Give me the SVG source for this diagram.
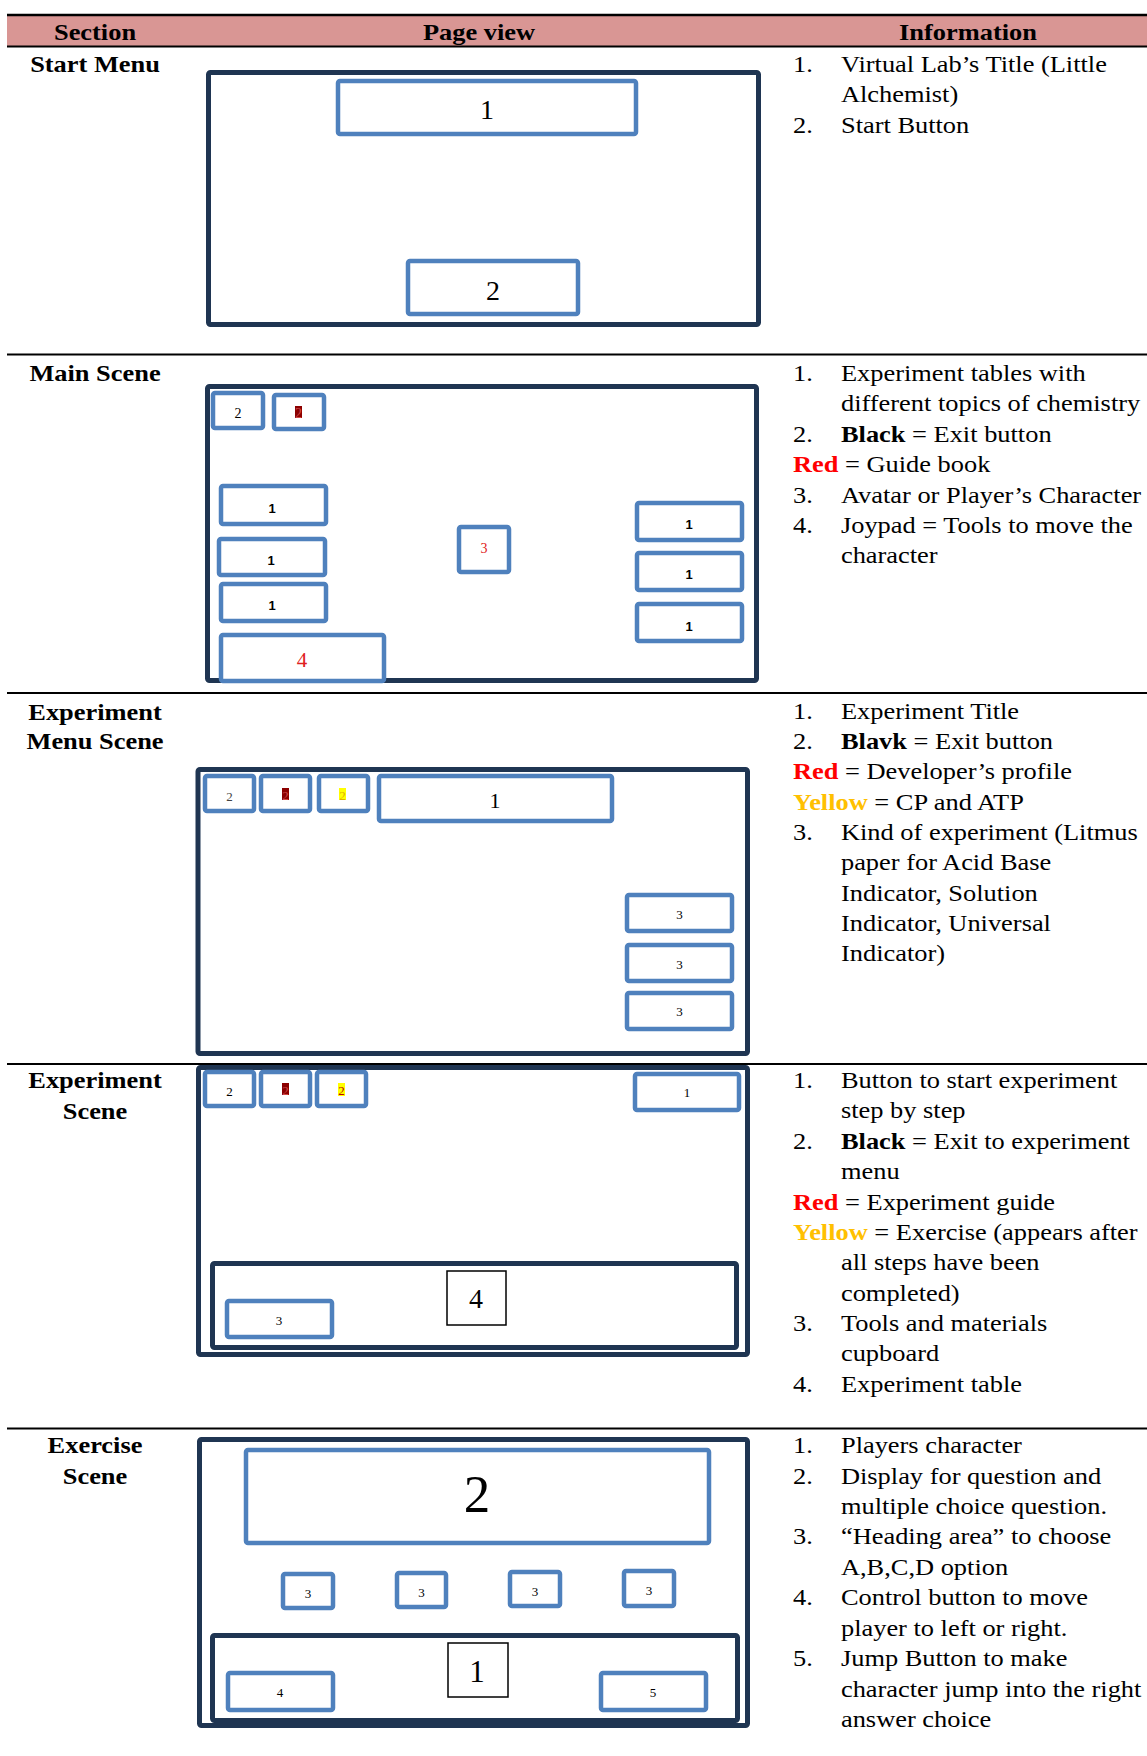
<svg xmlns="http://www.w3.org/2000/svg" width="1147" height="1756" viewBox="0 0 1147 1756">
<style>
.bg{fill:#fff}
.hdr{fill:#d99694}
.rule{stroke:#000;stroke-width:2}
.frame{fill:none;stroke:#1f3552;stroke-width:5}
.btn{fill:#fff;stroke:#4f81bd;stroke-width:4.5}
.sq{fill:#fff;stroke:#000;stroke-width:1.5}
.tx{font-family:"Liberation Serif","Times New Roman",serif;font-size:24px;fill:#000}
.b{font-weight:bold}
.c{text-anchor:middle}
.lbl{font-family:"Liberation Serif","Times New Roman",serif;text-anchor:middle;fill:#000}
.sans{font-family:"Liberation Sans",Arial,sans-serif;font-weight:bold}
.red{fill:#ff0000}
.yel{fill:#ffc000}
.lred{fill:#e02020}
.onred{fill:#d04848}
.onyel{fill:#e0b000}
.onyel2{fill:#c00000}
.grey{fill:#444}
.hlr{fill:#8b0000}
.hly{fill:#ffff00}
</style>
<rect class="bg" x="0" y="0" width="1147" height="1756"/>

<!-- table header and rules -->
<g id="table">
<rect class="hdr" x="7" y="15" width="1140" height="31"/>
<line class="rule" x1="7" y1="15" x2="1147" y2="15" style="stroke-width:2.5"/>
<line class="rule" x1="7" y1="46.5" x2="1147" y2="46.5"/>
<line class="rule" x1="7" y1="354.5" x2="1147" y2="354.5"/>
<line class="rule" x1="7" y1="693" x2="1147" y2="693"/>
<line class="rule" x1="7" y1="1064" x2="1147" y2="1064"/>
<line class="rule" x1="7" y1="1428.5" x2="1147" y2="1428.5"/>
<text class="tx b c" transform="translate(95,40) scale(1.1,1)">Section</text>
<text class="tx b c" transform="translate(479,40) scale(1.1,1)">Page view</text>
<text class="tx b c" transform="translate(968,40) scale(1.1,1)">Information</text>
</g>

<!-- section labels -->
<g id="sections" class="tx b c">
<text transform="translate(95,72) scale(1.1,1)">Start Menu</text>
<text transform="translate(95,381) scale(1.1,1)">Main Scene</text>
<text transform="translate(95,720) scale(1.1,1)">Experiment</text>
<text transform="translate(95,749) scale(1.1,1)">Menu Scene</text>
<text transform="translate(95,1088) scale(1.1,1)">Experiment</text>
<text transform="translate(95,1119) scale(1.1,1)">Scene</text>
<text transform="translate(95,1453) scale(1.1,1)">Exercise</text>
<text transform="translate(95,1484) scale(1.1,1)">Scene</text>
</g>

<!-- information column -->
<g id="info" class="tx" transform="translate(793,0) scale(1.1,1)">
<text x="0" y="72">1.</text><text x="43.6" y="72">Virtual Lab’s Title (Little</text>
<text x="43.6" y="102">Alchemist)</text>
<text x="0" y="133">2.</text><text x="43.6" y="133">Start Button</text>

<text x="0" y="381">1.</text><text x="43.6" y="381">Experiment tables with</text>
<text x="43.6" y="411">different topics of chemistry</text>
<text x="0" y="442">2.</text><text x="43.6" y="442"><tspan class="b">Black</tspan> = Exit button</text>
<text x="0" y="472"><tspan class="b red">Red</tspan> = Guide book</text>
<text x="0" y="503">3.</text><text x="43.6" y="503">Avatar or Player’s Character</text>
<text x="0" y="533">4.</text><text x="43.6" y="533">Joypad = Tools to move the</text>
<text x="43.6" y="563">character</text>

<text x="0" y="719">1.</text><text x="43.6" y="719">Experiment Title</text>
<text x="0" y="749">2.</text><text x="43.6" y="749"><tspan class="b">Blavk</tspan> = Exit button</text>
<text x="0" y="779"><tspan class="b red">Red</tspan> = Developer’s profile</text>
<text x="0" y="810"><tspan class="b yel">Yellow</tspan> = CP and ATP</text>
<text x="0" y="840">3.</text><text x="43.6" y="840">Kind of experiment (Litmus</text>
<text x="43.6" y="870">paper for Acid Base</text>
<text x="43.6" y="901">Indicator, Solution</text>
<text x="43.6" y="931">Indicator, Universal</text>
<text x="43.6" y="961">Indicator)</text>

<text x="0" y="1088">1.</text><text x="43.6" y="1088">Button to start experiment</text>
<text x="43.6" y="1118">step by step</text>
<text x="0" y="1149">2.</text><text x="43.6" y="1149"><tspan class="b">Black</tspan> = Exit to experiment</text>
<text x="43.6" y="1179">menu</text>
<text x="0" y="1210"><tspan class="b red">Red</tspan> = Experiment guide</text>
<text x="0" y="1240"><tspan class="b yel">Yellow</tspan> = Exercise (appears after</text>
<text x="43.6" y="1270">all steps have been</text>
<text x="43.6" y="1301">completed)</text>
<text x="0" y="1331">3.</text><text x="43.6" y="1331">Tools and materials</text>
<text x="43.6" y="1361">cupboard</text>
<text x="0" y="1392">4.</text><text x="43.6" y="1392">Experiment table</text>

<text x="0" y="1453">1.</text><text x="43.6" y="1453">Players character</text>
<text x="0" y="1484">2.</text><text x="43.6" y="1484">Display for question and</text>
<text x="43.6" y="1514">multiple choice question.</text>
<text x="0" y="1544">3.</text><text x="43.6" y="1544">“Heading area” to choose</text>
<text x="43.6" y="1575">A,B,C,D option</text>
<text x="0" y="1605">4.</text><text x="43.6" y="1605">Control button to move</text>
<text x="43.6" y="1636">player to left or right.</text>
<text x="0" y="1666">5.</text><text x="43.6" y="1666">Jump Button to make</text>
<text x="43.6" y="1697">character jump into the right</text>
<text x="43.6" y="1727">answer choice</text>
</g>

<!-- Start Menu -->
<g id="start-frame"><rect class="frame" x="208.5" y="72.5" width="550" height="252" rx="2"/></g>
<g id="start-1"><rect class="btn" x="338" y="81" width="298" height="53" rx="2"/><text class="lbl" x="487" y="119" font-size="28">1</text></g>
<g id="start-2"><rect class="btn" x="408" y="261" width="170" height="53" rx="2"/><text class="lbl" x="493" y="300" font-size="28">2</text></g>

<!-- Main Scene -->
<g id="main-frame"><rect class="frame" x="207.5" y="386.5" width="549" height="294" rx="2"/></g>
<g id="main-2a"><rect class="btn" x="213" y="393" width="50" height="35" rx="2"/><text class="lbl" x="238" y="418" font-size="14">2</text></g>
<g id="main-2b"><rect class="btn" x="274" y="395" width="50" height="34" rx="2"/><rect class="hlr" x="295" y="406" width="7" height="12"/><text class="lbl onred" x="298.5" y="418" font-size="14">2</text></g>
<g id="main-1a"><rect class="btn" x="221" y="486" width="105" height="38" rx="2"/><text class="lbl sans" x="272" y="513" font-size="13">1</text></g>
<g id="main-1b"><rect class="btn" x="219" y="539" width="106" height="36" rx="2"/><text class="lbl sans" x="271" y="565" font-size="13">1</text></g>
<g id="main-1c"><rect class="btn" x="221" y="584" width="105" height="37" rx="2"/><text class="lbl sans" x="272" y="610" font-size="13">1</text></g>
<g id="main-3"><rect class="btn" x="459" y="527" width="50" height="45" rx="2"/><text class="lbl lred" x="484" y="553" font-size="14">3</text></g>
<g id="main-4"><rect class="btn" x="221" y="635" width="163" height="46" rx="2"/><text class="lbl lred" x="302" y="667" font-size="21">4</text></g>
<g id="main-1d"><rect class="btn" x="637" y="503" width="105" height="37" rx="2"/><text class="lbl sans" x="689" y="529" font-size="13">1</text></g>
<g id="main-1e"><rect class="btn" x="637" y="553" width="105" height="37" rx="2"/><text class="lbl sans" x="689" y="579" font-size="13">1</text></g>
<g id="main-1f"><rect class="btn" x="637" y="604" width="105" height="37" rx="2"/><text class="lbl sans" x="689" y="631" font-size="13">1</text></g>

<!-- Experiment Menu Scene -->
<g id="menu-frame"><rect class="frame" x="198" y="769.5" width="549.5" height="284" rx="2"/></g>
<g id="menu-2a"><rect class="btn" x="205" y="776" width="49" height="35" rx="2"/><text class="lbl grey" x="229.5" y="801" font-size="13">2</text></g>
<g id="menu-2b"><rect class="btn" x="261" y="776" width="49" height="35" rx="2"/><rect class="hlr" x="282" y="788" width="7" height="12"/><text class="lbl onred" x="285.5" y="800" font-size="13">2</text></g>
<g id="menu-2c"><rect class="btn" x="319" y="776" width="49" height="35" rx="2"/><rect class="hly" x="339" y="788" width="7" height="12"/><text class="lbl onyel" x="342.5" y="800" font-size="13">2</text></g>
<g id="menu-1"><rect class="btn" x="379" y="776" width="233" height="45" rx="2"/><text class="lbl" x="495" y="808" font-size="22">1</text></g>
<g id="menu-3a"><rect class="btn" x="627" y="895" width="105" height="36" rx="2"/><text class="lbl" x="679.5" y="919" font-size="13">3</text></g>
<g id="menu-3b"><rect class="btn" x="627" y="945" width="105" height="36" rx="2"/><text class="lbl" x="679.5" y="969" font-size="13">3</text></g>
<g id="menu-3c"><rect class="btn" x="627" y="993" width="105" height="36" rx="2"/><text class="lbl" x="679.5" y="1016" font-size="13">3</text></g>

<!-- Experiment Scene -->
<g id="exp-frame"><rect class="frame" x="198.5" y="1067.5" width="549" height="287" rx="2"/></g>
<g id="exp-2a"><rect class="btn" x="205" y="1072" width="49" height="34" rx="2"/><text class="lbl" x="229.5" y="1096" font-size="13">2</text></g>
<g id="exp-2b"><rect class="btn" x="261" y="1072" width="49" height="34" rx="2"/><rect class="hlr" x="282" y="1083" width="7" height="12"/><text class="lbl onred" x="285.5" y="1095" font-size="13">2</text></g>
<g id="exp-2c"><rect class="btn" x="317" y="1072" width="49" height="34" rx="2"/><rect class="hly" x="338" y="1083" width="7" height="13"/><text class="lbl onyel2" x="341.5" y="1095" font-size="13">2</text></g>
<g id="exp-1"><rect class="btn" x="635" y="1074" width="104" height="36" rx="2"/><text class="lbl" x="687" y="1097" font-size="13">1</text></g>
<g id="exp-table"><rect class="frame" x="212.5" y="1263.5" width="524" height="84" rx="2"/></g>
<g id="exp-4"><rect class="sq" x="447" y="1271" width="59" height="54"/><text class="lbl" x="476" y="1308" font-size="28">4</text></g>
<g id="exp-3"><rect class="btn" x="227" y="1301" width="105" height="36" rx="2"/><text class="lbl" x="279" y="1325" font-size="13">3</text></g>

<!-- Exercise Scene -->
<g id="ex-frame"><rect class="frame" x="199.5" y="1439.5" width="548" height="286" rx="2"/></g>
<g id="ex-2"><rect class="btn" x="246" y="1450" width="463" height="93" rx="2"/><text class="lbl" x="477" y="1512" font-size="53">2</text></g>
<g id="ex-3a"><rect class="btn" x="283" y="1574" width="50" height="34" rx="2"/><text class="lbl" x="308" y="1598" font-size="13">3</text></g>
<g id="ex-3b"><rect class="btn" x="397" y="1573" width="49" height="34" rx="2"/><text class="lbl" x="421.5" y="1597" font-size="13">3</text></g>
<g id="ex-3c"><rect class="btn" x="510" y="1572" width="50" height="34" rx="2"/><text class="lbl" x="535" y="1596" font-size="13">3</text></g>
<g id="ex-3d"><rect class="btn" x="624" y="1571" width="50" height="35" rx="2"/><text class="lbl" x="649" y="1595" font-size="13">3</text></g>
<g id="ex-floor"><rect class="frame" x="212.5" y="1635.5" width="525" height="85" rx="2"/></g>
<g id="ex-1"><rect class="sq" x="448" y="1643" width="60" height="54"/><text class="lbl" x="477" y="1682" font-size="31">1</text></g>
<g id="ex-4"><rect class="btn" x="228" y="1673" width="105" height="37" rx="2"/><text class="lbl" x="280" y="1697" font-size="13">4</text></g>
<g id="ex-5"><rect class="btn" x="601" y="1673" width="105" height="37" rx="2"/><text class="lbl" x="653" y="1697" font-size="13">5</text></g>

<g id="connectors"></g>
</svg>
